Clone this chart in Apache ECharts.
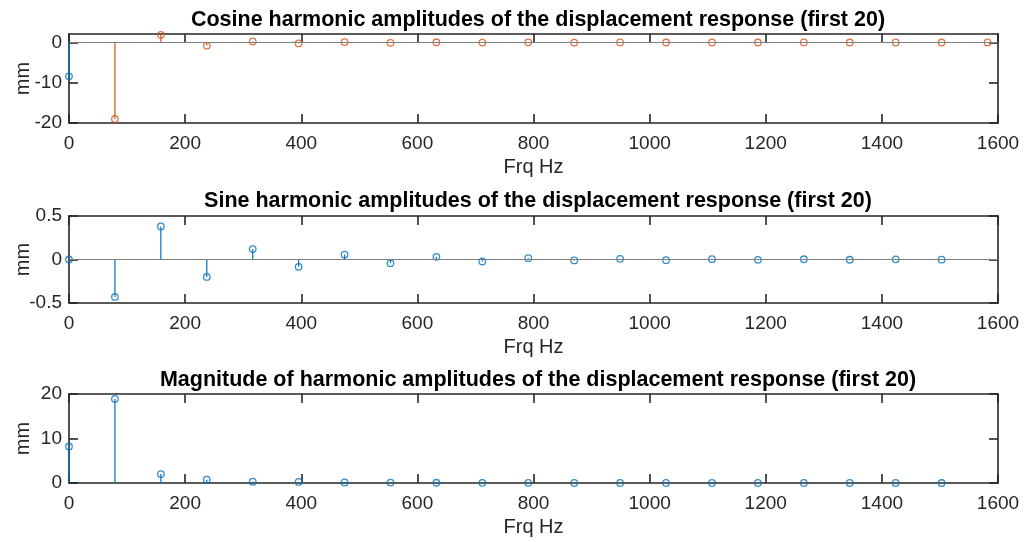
<!DOCTYPE html>
<html>
<head>
<meta charset="utf-8">
<script src="https://cdn.jsdelivr.net/npm/echarts@6/dist/echarts.min.js"></script>
<style>
  html, body { margin: 0; padding: 0; background: #fff; }
  #chart { width: 1024px; height: 542px; }
</style>
</head>
<body>
<div id="chart"></div>
<script>
// harmonic frequencies, Hz (k = 0..20)
const freq = [0, 79.1, 158.2, 237.3, 316.4, 395.5, 474.6, 553.7, 632.8, 711.9, 791,
  870.1, 949.2, 1028.3, 1107.4, 1186.5, 1265.6, 1344.7, 1423.8, 1502.9, 1582]

// cosine: DC term (blue) and harmonics k = 1..20 (orange)
const cosDC = [-8.4]
const cosHarm = [-19.0, 1.9, -0.8, 0.25, -0.25, 0.1, -0.08, 0.05, -0.04, 0.03,
  -0.02, 0.02, -0.015, 0.01, -0.01, 0.01, -0.008, 0.006, -0.005, 0.004]

// sine, k = 0..19
const sineAmp = [0, -0.43, 0.38, -0.2, 0.12, -0.084, 0.057, -0.042, 0.031, -0.023,
  0.015, -0.011, 0.008, -0.008, 0.004, -0.004, 0.003, -0.003, 0.002, -0.002]

// magnitude, k = 0..19
const magAmp = [8.2, 18.9, 2.0, 0.75, 0.3, 0.25, 0.12, 0.09, 0.06, 0.05,
  0.035, 0.025, 0.02, 0.015, 0.012, 0.01, 0.01, 0.008, 0.007, 0.005]

const xTicks = [0, 200, 400, 600, 800, 1000, 1200, 1400, 1600]
const cosTicks = [-20, -10, 0]
const sineTicks = [-0.5, 0, 0.5]
const magTicks = [0, 10, 20]

const titles = [
  'Cosine harmonic amplitudes of the displacement response (first 20)',
  'Sine harmonic amplitudes of the displacement response (first 20)',
  'Magnitude of harmonic amplitudes of the displacement response (first 20)'
]

const BLUE = '#0072BD'
const ORANGE = '#D95319'
const INK = '#262626'
const FONT = 'Liberation Sans, Arial, sans-serif'

const panels = [
  { top: 34, height: 89, yMin: -20, yMax: 2.1, yTicks: cosTicks, titleTop: 4.5 },
  { top: 216, height: 87, yMin: -0.5, yMax: 0.5, yTicks: sineTicks, titleTop: 185 },
  { top: 394, height: 89, yMin: 0, yMax: 20, yTicks: magTicks, titleTop: 364.5 }
]

const pairs = (xs, ys) => ys.map((y, i) => [xs[i], y])
const plain = v => String(v)

// stem line from the zero baseline to the value
const stemRender = color => (params, api) => {
  const a = api.coord([api.value(0), 0])
  const b = api.coord([api.value(0), api.value(1)])
  return {
    type: 'line',
    shape: { x1: a[0], y1: a[1], x2: b[0], y2: b[1] },
    style: { stroke: color, lineWidth: 1.2 }
  }
}

const grid = []
const xAxis = []
const yAxis = []
panels.forEach((p, i) => {
  grid.push({ left: 69, right: 26, top: p.top, height: p.height, outerBoundsMode: 'none' })
  const xBase = {
    type: 'value', gridIndex: i, min: 0, max: 1600, interval: 200,
    axisLine: { show: true, onZero: false, lineStyle: { color: INK, width: 1.6 } },
    axisTick: { show: true, inside: true, length: 9, lineStyle: { color: INK, width: 1.6 } },
    splitLine: { show: false }
  }
  xAxis.push(Object.assign({}, xBase, {
    position: 'bottom',
    name: 'Frq Hz', nameLocation: 'middle', nameGap: 34, nameMoveOverlap: false,
    nameTextStyle: { color: INK, fontSize: 20, fontFamily: FONT },
    axisLabel: { color: INK, fontSize: 19, fontFamily: FONT, margin: 11,
      customValues: xTicks, formatter: plain }
  }))
  xAxis.push(Object.assign({}, xBase, { position: 'top', axisLabel: { show: false } }))

  const yBase = {
    type: 'value', gridIndex: i, min: p.yMin, max: p.yMax,
    axisLine: { show: true, onZero: false, lineStyle: { color: INK, width: 1.6 } },
    axisTick: { show: true, inside: true, length: 9, customValues: p.yTicks,
      lineStyle: { color: INK, width: 1.6 } },
    splitLine: { show: false }
  }
  yAxis.push(Object.assign({}, yBase, {
    position: 'left',
    name: 'mm', nameLocation: 'middle', nameGap: 36, nameMoveOverlap: false,
    nameTextStyle: { color: INK, fontSize: 20, fontFamily: FONT },
    axisLabel: { color: INK, fontSize: 19, fontFamily: FONT, margin: 7,
      customValues: p.yTicks, formatter: plain }
  }))
  yAxis.push(Object.assign({}, yBase, { position: 'right', axisLabel: { show: false } }))
})

const series = []
function addStems(panel, xs, ys, color) {
  const data = pairs(xs, ys)
  series.push({
    type: 'custom', xAxisIndex: panel * 2, yAxisIndex: panel * 2,
    renderItem: stemRender(color), data: data, silent: true, z: 3
  })
  const sc = {
    type: 'scatter', xAxisIndex: panel * 2, yAxisIndex: panel * 2,
    data: data, symbol: 'circle', symbolSize: 6.5, clip: false, silent: true, z: 4,
    itemStyle: { color: 'rgba(0,0,0,0)', borderColor: color, borderWidth: 1.3 }
  }
  series.push(sc)
  return sc
}

// cosine panel
const c0 = addStems(0, freq.slice(0, 1), cosDC, BLUE)
addStems(0, freq.slice(1), cosHarm, ORANGE)
// sine panel
const s0 = addStems(1, freq, sineAmp, BLUE)
// magnitude panel
addStems(2, freq, magAmp, BLUE)

const baseLine = {
  silent: true, symbol: 'none', label: { show: false },
  lineStyle: { color: '#7f7f7f', type: 'solid', width: 1.2 },
  data: [{ yAxis: 0 }]
}
c0.markLine = baseLine
s0.markLine = baseLine

const chart = echarts.init(document.getElementById('chart'), null, { renderer: 'canvas' })
chart.setOption({
  animation: false,
  backgroundColor: '#fff',
  title: titles.map((t, i) => ({
    text: t, left: 533, textAlign: 'center', top: panels[i].titleTop,
    textStyle: { color: '#000', fontSize: 21.5, fontWeight: 'bold', fontFamily: FONT }
  })),
  grid: grid,
  xAxis: xAxis,
  yAxis: yAxis,
  series: series
})
</script>
</body>
</html>
